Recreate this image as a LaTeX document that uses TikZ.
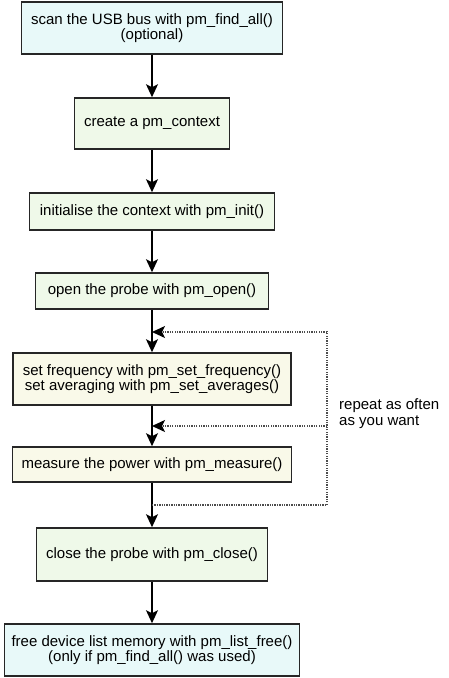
\documentclass[tikz,border=0pt]{standalone}
\usepackage{fontspec}
\setmainfont{Liberation Sans}
\usetikzlibrary{arrows.meta,positioning}

\definecolor{endcyan}{HTML}{E8F9F9}
\definecolor{stepgreen}{HTML}{EFF9E9}
\definecolor{loopyellow}{HTML}{F9F9E9}

\tikzset{
  flowbox/.style={draw=black!85, line width=1.6pt, align=center, inner sep=2pt,
    font=\fontsize{15}{15}\selectfont},
  flowarrow/.style={-{Stealth[length=13pt,width=12pt,inset=3pt]}, line width=1.6pt},
  looparrow/.style={-{Stealth[length=13pt,width=12pt,inset=3pt,color=black]}, line width=1.3pt,
    black!70, dash pattern=on 1.3pt off 1.1pt}
}

\begin{document}
\begin{tikzpicture}[x=1pt,y=-1pt]
  \useasboundingbox (0,0) rectangle (449,678);

  % the steps, top to bottom
  \node[flowbox,fill=endcyan,minimum width=261pt,minimum height=52pt] (scan) at (152,28)
    {scan the USB bus with pm\_find\_all()\\(optional)};
  \node[flowbox,fill=stepgreen,minimum width=155pt,minimum height=51pt] (create) at (152,123.5)
    {create a pm\_context};
  \node[flowbox,fill=stepgreen,minimum width=245pt,minimum height=37pt] (init) at (152,211.5)
    {initialise the context with pm\_init()};
  \node[flowbox,fill=stepgreen,minimum width=233pt,minimum height=36pt] (open) at (152,291)
    {open the probe with pm\_open()};
  \node[flowbox,fill=loopyellow,minimum width=278pt,minimum height=52pt] (setup) at (152,379)
    {set frequency with pm\_set\_frequency()\\set averaging with pm\_set\_averages()};
  \node[flowbox,fill=loopyellow,minimum width=279pt,minimum height=35pt] (measure) at (152,464.5)
    {measure the power with pm\_measure()};
  \node[flowbox,fill=stepgreen,minimum width=231pt,minimum height=53pt] (close) at (152,554.5)
    {close the probe with pm\_close()};
  \node[flowbox,fill=endcyan,minimum width=295pt,minimum height=52pt] (free) at (152,650)
    {free device list memory with pm\_list\_free()\\(only if pm\_find\_all() was used)};

  % main flow
  \draw[flowarrow] (scan) -- (create);
  \draw[flowarrow] (create) -- (init);
  \draw[flowarrow] (init) -- (open);
  \draw[flowarrow] (open) -- (setup);
  \draw[flowarrow] (setup) -- (measure);
  \draw[flowarrow] (measure) -- (close);
  \draw[flowarrow] (close) -- (free);

  % repeat loop
  \coordinate (split) at (152,505);
  \coordinate (joinsetup) at (152,332);
  \coordinate (joinmeasure) at (152,426);
  \coordinate (loopbottom) at (327,505);
  \coordinate (looptop) at (327,332);
  \coordinate (loopmid) at (327,426);
  \draw[looparrow] (split) -- (loopbottom) -- (looptop) -- (joinsetup);
  \draw[looparrow] (loopmid) -- (joinmeasure);
  \node[anchor=west,align=left,inner sep=0pt,font=\fontsize{15}{16}\selectfont] (repeat) at (339,414)
    {repeat as often\\as you want};
\end{tikzpicture}
\end{document}
